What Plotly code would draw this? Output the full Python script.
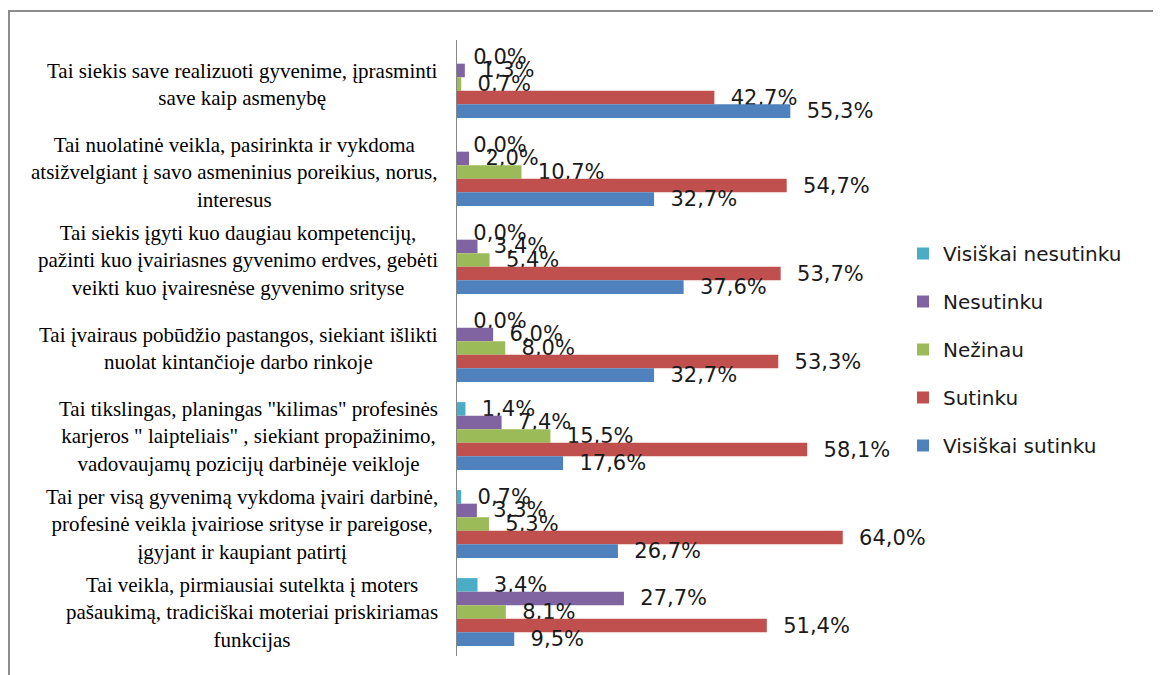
import plotly.graph_objects as go

# Data
categories = [
    "Tai siekis save realizuoti gyvenime, įprasminti<br>save kaip asmenybę",
    "Tai nuolatinė veikla, pasirinkta ir vykdoma<br>atsižvelgiant į savo asmeninius poreikius, norus,<br>interesus",
    "Tai siekis įgyti kuo daugiau kompetencijų,<br>pažinti kuo įvairiasnes gyvenimo erdves, gebėti<br>veikti kuo įvairesnėse gyvenimo srityse",
    "Tai įvairaus pobūdžio pastangos, siekiant išlikti<br>nuolat kintančioje darbo rinkoje",
    "Tai tikslingas, planingas \"kilimas\" profesinės<br>karjeros \" laipteliais\" , siekiant propažinimo,<br>vadovaujamų pozicijų darbinėje veikloje",
    "Tai per visą gyvenimą vykdoma įvairi darbinė,<br>profesinė veikla įvairiose srityse ir pareigose,<br>įgyjant ir kaupiant patirtį",
    "Tai veikla, pirmiausiai sutelkta į moters<br>pašaukimą, tradiciškai moteriai priskiriamas<br>funkcijas",
]

series_names = ["Visiškai nesutinku", "Nesutinku", "Nežinau", "Sutinku", "Visiškai sutinku"]
visiskai_nesutinku = [0.0, 0.0, 0.0, 0.0, 1.4, 0.7, 3.4]
nesutinku = [1.3, 2.0, 3.4, 6.0, 7.4, 3.3, 27.7]
nezinau = [0.7, 10.7, 5.4, 8.0, 15.5, 5.3, 8.1]
sutinku = [42.7, 54.7, 53.7, 53.3, 58.1, 64.0, 51.4]
visiskai_sutinku = [55.3, 32.7, 37.6, 32.7, 17.6, 26.7, 9.5]
colors = ["#4BACC6", "#8064A2", "#9BBB59", "#C0504D", "#4F81BD"]

all_values = [visiskai_nesutinku, nesutinku, nezinau, sutinku, visiskai_sutinku]

# page has an 8px body margin, so size the figure to fit the window
OFF = 8
W, H = 1161 - OFF, 675 - OFF
ml, mr, mt, mb = 457 - OFF, 1161 - 897, 40 - OFF, 675 - 656
pw = W - ml - mr
ph = H - mt - mb

fig = go.Figure()
for name, vals, col in zip(series_names, all_values, colors):
    fig.add_trace(go.Bar(
        y=categories, x=vals, name=name, orientation="h",
        marker=dict(color=col, line=dict(width=0)),
        text=["\u00a0\u00a0" + f"{v:.1f}".replace(".", ",") + "%" for v in vals],
        textposition="outside", constraintext="none", cliponaxis=False,
        textfont=dict(family="DejaVu Sans", size=21, color="#1a1a1a"),
        legendgroup=name, hoverinfo="skip",
    ))

# centred multi-line category labels
for c in categories:
    fig.add_annotation(
        x=-17 / pw, xref="paper", y=c, yref="y", text=c,
        showarrow=False, xanchor="right", align="center",
        font=dict(family="Liberation Serif", size=21, color="#000000"),
    )

# outer chart frame
fig.add_shape(
    type="rect", xref="paper", yref="paper",
    x0=(1 - ml) / pw, x1=(1160 - OFF - ml) / pw,
    y0=-(mb + 20) / ph, y1=1 + (mt - (11 - OFF)) / ph,
    line=dict(color="#8C8C8C", width=2), fillcolor="rgba(0,0,0,0)",
)

fig.update_layout(
    width=W, height=H,
    margin=dict(l=ml, r=mr, t=mt, b=mb),
    barmode="group", bargap=0.23, bargroupgap=0,
    plot_bgcolor="white", paper_bgcolor="white",
    xaxis=dict(range=[0, 73], visible=False, showgrid=False),
    yaxis=dict(autorange="reversed", showticklabels=False, ticks="",
               showline=True, linecolor="#868686", linewidth=1,
               showgrid=False),
    legend=dict(x=(903 - OFF - ml) / pw, xanchor="left",
                y=(675 - mb - 234) / ph, yanchor="top",
                font=dict(family="DejaVu Sans", size=20, color="#1a1a1a"),
                tracegroupgap=19, bgcolor="rgba(0,0,0,0)"),
    showlegend=True,
)

fig.write_html("out.html")
